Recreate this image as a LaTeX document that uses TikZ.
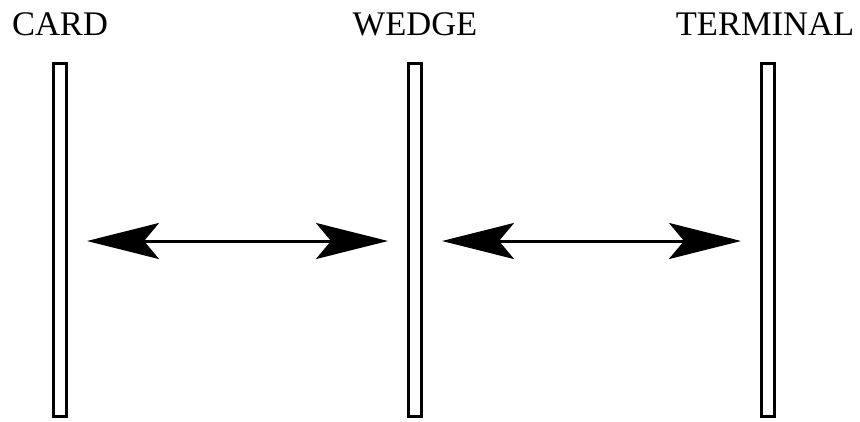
\documentclass[tikz,border=0pt]{standalone}
\usepackage{fontspec}
\setmainfont{Liberation Serif}
\usetikzlibrary{arrows.meta}
\begin{document}
\begin{tikzpicture}[x=1pt,y=1pt,
  bar/.style={draw=black, line width=3pt, fill=white, minimum width=13pt, minimum height=353pt, inner sep=0pt},
  lbl/.style={font=\fontsize{34.5}{40}\selectfont, anchor=base, inner sep=0pt},
  link/.style={line width=3pt, {Stealth[length=72pt,width=36pt,inset=15pt]}-{Stealth[length=72pt,width=36pt,inset=15pt]}, shorten <=19pt, shorten >=19pt}]
\useasboundingbox (0,0) rectangle (860,-421);
\node[bar] (card) at (60,-240) {};
\node[bar] (wedge) at (415,-240) {};
\node[bar] (term) at (768,-240) {};
\node[lbl] (cardl) at (60,-35) {CARD};
\node[lbl] (wedgel) at (415,-35) {WEDGE};
\node[lbl] (terml) at (765,-35) {TERMINAL};
\draw[link] ([yshift=-1pt]card.east) -- ([yshift=-1pt]wedge.west);
\draw[link] ([yshift=-1pt]wedge.east) -- ([yshift=-1pt]term.west);
\end{tikzpicture}
\end{document}
